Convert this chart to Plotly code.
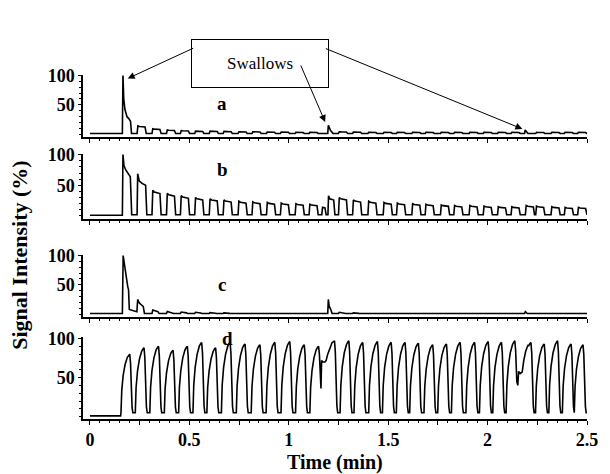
import plotly.graph_objects as go

# ---------------- data ----------------
# breath pulses (onset time in min, plateau height in %)
a_pulse_t = [0.237, 0.312, 0.385, 0.455, 0.527, 0.600, 0.670, 0.745, 0.815, 0.888,
             0.958, 1.032, 1.102, 1.250, 1.321, 1.398, 1.475, 1.542, 1.619, 1.686,
             1.763, 1.830, 1.907, 1.978, 2.050, 2.118, 2.242, 2.319, 2.386, 2.453]
a_pulse_v = [14, 9, 7, 6, 5, 5, 4.5, 4, 4, 3.5,
             3.5, 3, 3, 4, 3.5, 3, 3, 3, 3, 3,
             3, 3, 3, 3, 3, 3, 3, 3, 3, 3]
a_sw_t = [[0.163, 0.166, 0.170, 0.176, 0.186, 0.196, 0.204, 0.209],
          [1.196, 1.199, 1.204, 1.210, 1.216, 1.222],
          [2.186, 2.189, 2.196, 2.203]]
a_sw_v = [[1, 100, 60, 42, 30, 26, 22, 1],
          [1, 15, 9, 6, 4, 1],
          [1, 7, 4, 1]]

b_pulse_t = [0.312, 0.385, 0.455, 0.527, 0.600, 0.670, 0.745, 0.815, 0.888, 0.958,
             1.032, 1.102, 1.250, 1.321, 1.398, 1.475, 1.542, 1.619, 1.686, 1.763,
             1.830, 1.907, 1.978, 2.050, 2.118, 2.190, 2.242, 2.319, 2.386, 2.453]
b_pulse_v = [42, 37, 33, 30, 28, 26, 24, 23, 22, 21,
             20, 19, 30, 26, 24, 22, 21, 20, 19, 18,
             17, 17, 16, 15, 15, 17, 16, 15, 14, 14]
b_sw_t = [[0.163, 0.166, 0.171, 0.180, 0.192, 0.203, 0.210],
          [0.237, 0.240, 0.248, 0.262, 0.280, 0.286],
          [1.166, 1.170, 1.182, 1.188],
          [1.197, 1.200, 1.206, 1.226, 1.232]]
b_sw_v = [[1, 100, 82, 75, 70, 64, 2],
          [2, 69, 57, 53, 50, 2],
          [2, 14, 13, 2],
          [2, 33, 28, 26, 2]]

c_pulse_t = [0.312, 0.385, 0.455, 0.527, 0.600, 0.670, 1.250, 1.321]
c_pulse_v = [7, 4.5, 3.5, 3, 2.5, 2, 3, 2]
c_sw_t = [[0.163, 0.167, 0.174, 0.183, 0.190, 0.194, 0.198, 0.215, 0.232],
          [0.236, 0.240, 0.248, 0.258, 0.268, 0.274],
          [1.196, 1.199, 1.203, 1.207, 1.212, 1.218],
          [2.186, 2.190, 2.196, 2.200]]
c_sw_v = [[1, 100, 82, 60, 47, 42, 8, 6, 4],
          [4, 25, 19, 16, 13, 1],
          [1, 25, 14, 9, 7, 1],
          [1, 4, 2, 1]]

# trace d: breath peaks (time of peak, height in %)
d_peak_t = [0.200, 0.272, 0.345, 0.418, 0.490, 0.562, 0.632, 0.705, 0.780, 0.855,
            0.930, 1.005, 1.078, 1.150, 1.230, 1.302, 1.372, 1.446, 1.515, 1.585,
            1.652, 1.724, 1.793, 1.862, 1.935, 2.003, 2.070, 2.137, 2.218, 2.285,
            2.352, 2.420, 2.480]
d_peak_v = [80, 88, 90, 85, 90, 95, 88, 95, 93, 92,
            95, 96, 92, 90, 97, 97, 95, 96, 95, 95,
            94, 92, 93, 95, 95, 96, 95, 97, 95, 93,
            97, 93, 92]
d_sw_t = [[1.154, 1.158, 1.162, 1.165, 1.172, 1.182, 1.188, 1.196, 1.206, 1.218],
          [2.141, 2.147, 2.152, 2.156, 2.164, 2.174, 2.182, 2.192, 2.204]]
d_sw_v = [[80, 40, 36, 72, 70, 70, 72, 80, 88, 95],
          [85, 45, 40, 58, 55, 57, 72, 84, 92]]

panel_labels = ["a", "b", "c", "d"]
x_tick_vals = [0, 0.25, 0.5, 0.75, 1, 1.25, 1.5, 1.75, 2, 2.25, 2.5]
x_tick_text = ["0", "", "0.5", "", "1", "", "1.5", "", "2", "", "2.5"]
y_tick_vals = [50, 100]
y_tick_text = ["50", "100"]
swallow_label = "Swallows"
x_title = "Time (min)"
y_title = "Signal Intensity (%)"

# ---------------- pulse templates (shape style) ----------------
SQUARE = [(0.0, None), (0.004, 1.0), (0.012, 0.93), (0.040, 0.87), (0.046, None)]
DECAY = [(0.0, None), (0.004, 1.0), (0.030, 0.6), (0.036, None)]
BREATH = [(-0.044, None), (-0.040, 0.42), (-0.033, 0.66), (-0.023, 0.84),
          (-0.012, 0.95), (-0.004, 0.99), (0.0, 1.0), (0.004, 0.86), (0.008, 0.45),
          (0.012, 0.14), (0.016, None)]


def build(pulse_t, pulse_v, template, low, sw_t, sw_v, start_low):
    pts = []
    for t0, h in zip(pulse_t, pulse_v):
        for dt, frac in template:
            pts.append((t0 + dt, low if frac is None else frac * h))
    for st, sv in zip(sw_t, sw_v):
        lo, hi = st[0], st[-1]
        pts = [p for p in pts if not (lo <= p[0] <= hi)]
        pts.extend(zip(st, sv))
    pts.sort()
    first = pts[0][0]
    xs = [0.0, first - 0.002] + [p[0] for p in pts]
    ys = [start_low, start_low] + [p[1] for p in pts]
    if xs[-1] < 2.5:
        xs.append(2.5)
        ys.append(low)
    return xs, ys


series = [
    build(a_pulse_t, a_pulse_v, SQUARE, 1, a_sw_t, a_sw_v, 1),
    build(b_pulse_t, b_pulse_v, SQUARE, 2, b_sw_t, b_sw_v, 1),
    build(c_pulse_t, c_pulse_v, DECAY, 1, c_sw_t, c_sw_v, 1),
    build(d_peak_t, d_peak_v, BREATH, 5, d_sw_t, d_sw_v, 1),
]

FONT = "Liberation Serif"
TICKFONT = dict(family=FONT, size=18, color="black", weight="bold")
domains = [[0.8198, 1.0], [0.5814, 0.7703], [0.2965, 0.4767], [0.0, 0.2384]]
yranges = [[-5, 101], [-5, 101], [-5, 101], [-3, 102]]

fig = go.Figure()
layout = dict(
    width=610, height=474,
    margin=dict(l=83, r=13, t=75, b=55),
    paper_bgcolor="white", plot_bgcolor="white",
    showlegend=False,
    font=dict(family=FONT, color="black"),
)

for i, (xs, ys) in enumerate(series):
    n = "" if i == 0 else str(i + 1)
    fig.add_trace(go.Scatter(x=xs, y=ys, mode="lines",
                             line=dict(color="black", width=1.6),
                             xaxis="x" + n, yaxis="y" + n, hoverinfo="skip"))
    last = i == 3
    layout["xaxis" + n] = dict(
        domain=[0, 1], range=[-0.035, 2.5], anchor="y" + n,
        showline=True, linecolor="black", linewidth=1.5,
        showgrid=False, zeroline=False,
        tickmode="array", tickvals=x_tick_vals, ticktext=x_tick_text,
        ticks="outside", ticklen=4, tickwidth=1.2, tickcolor="black",
        minor=dict(tickmode="linear", tick0=0, dtick=0.05, ticks="outside",
                   ticklen=2, tickwidth=1, tickcolor="black"),
        showticklabels=last,
        tickfont=TICKFONT,
        fixedrange=True,
    )
    layout["yaxis" + n] = dict(
        domain=domains[i], range=yranges[i], anchor="x" + n,
        showline=True, linecolor="black", linewidth=1.5,
        showgrid=False, zeroline=False,
        tickmode="array", tickvals=y_tick_vals, ticktext=y_tick_text,
        ticks="outside", ticklen=3, tickwidth=1.2, tickcolor="black",
        minor=dict(tickmode="linear", tick0=0, dtick=10, ticks="outside",
                   ticklen=2, tickwidth=1, tickcolor="black"),
        tickfont=TICKFONT,
        ticklabelstandoff=0,
        fixedrange=True,
    )

annotations = []
label_pos = [(0.665, 52), (0.665, 75), (0.665, 50), (0.69, 100)]
for i, lab in enumerate(panel_labels):
    n = "" if i == 0 else str(i + 1)
    annotations.append(dict(text="<b>%s</b>" % lab, x=label_pos[i][0], y=label_pos[i][1],
                            xref="x" + n, yref="y" + n, showarrow=False,
                            font=dict(family=FONT, size=19, color="black")))

# Swallows box
annotations.append(dict(text=swallow_label, x=0.3521, y=1.1032, xref="paper", yref="paper",
                        showarrow=False, width=134, height=45, borderpad=1,
                        bordercolor="black", borderwidth=1, bgcolor="white",
                        font=dict(family=FONT, size=17, color="black")))
# arrows from the box to the swallow events in trace a
arrow_heads = [(0.19, 95, 67, -31), (1.183, 20.6, -25, -58), (2.175, 8.7, -198, -81)]
for hx, hy, ax, ay in arrow_heads:
    annotations.append(dict(text="", x=hx, y=hy, xref="x", yref="y",
                            ax=ax, ay=ay, showarrow=True, arrowhead=2,
                            arrowsize=1.4, arrowwidth=1, arrowcolor="black"))

annotations.append(dict(text="<b>%s</b>" % y_title, x=-0.1265, y=0.475, xref="paper", yref="paper",
                        textangle=-90, showarrow=False, xanchor="center", yanchor="middle",
                        font=dict(family=FONT, size=22, color="black")))
annotations.append(dict(text="<b>%s</b>" % x_title, x=0.5, y=-0.1250, xref="paper", yref="paper",
                        showarrow=False, xanchor="center", yanchor="middle",
                        font=dict(family=FONT, size=20, color="black")))

layout["annotations"] = annotations
fig.update_layout(**layout)
fig.write_html("out.html")
